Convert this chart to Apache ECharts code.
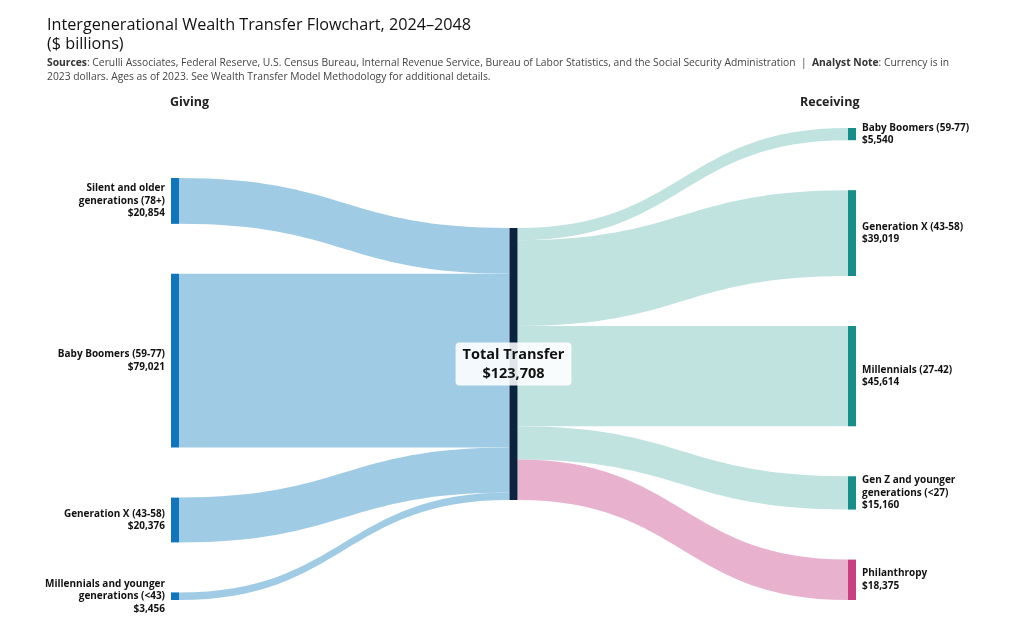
<!DOCTYPE html>
<html>
<head>
<meta charset="utf-8">
<script src="https://cdn.jsdelivr.net/npm/echarts@6/dist/echarts.min.js"></script>
<style>
  html, body { margin: 0; padding: 0; background: #fff; }
  #chart { width: 1024px; height: 644px; }
</style>
</head>
<body>
<div id="chart"></div>
<script>
// data ($ billions)
const givingNames = ['Silent and older\ngenerations (78+)', 'Baby Boomers (59-77)', 'Generation X (43-58)', 'Millennials and younger\ngenerations (<43)'];
const givingValues = [20854, 79021, 20376, 3456];
const totalName = 'Total Transfer';
const totalValue = 123708;
const receivingNames = ['Baby Boomers (59-77)', 'Generation X (43-58)', 'Millennials (27-42)', 'Gen Z and younger\ngenerations (<27)', 'Philanthropy'];
const receivingValues = [5540, 39019, 45614, 15160, 18375];

const blueNode = '#0f75bc', blueLink = '#9fcbe5';
const tealNode = '#178e8a', tealLink = '#c0e3e0';
const pinkNode = '#c8407f', pinkLink = '#e8b2cf';
const navy = '#0c2340';

const fmt = v => '$' + v.toLocaleString('en-US');
const sum = a => a.reduce((s, v) => s + v, 0);

// sankey box and gap; the layout keeps the data order when it does not relax,
// so the giving column is stacked to the bottom and the total centred (as in the source)
const box = { left: 171, right: 168, top: 128, bottom: 44 };
const gap = 50;
const boxH = 644 - box.top - box.bottom;
const ky = (boxH - (receivingValues.length - 1) * gap) / sum(receivingValues);
const givingSpan = sum(givingValues) * ky + (givingValues.length - 1) * gap;
const givingStart = boxH - givingSpan;
const totalStart = (boxH - totalValue * ky) / 2;

const nodes = [];
const links = [];
let acc = givingStart;
givingNames.forEach((n, i) => {
    nodes.push({
        name: 'g' + i, disp: n, val: givingValues[i],
        localY: acc / boxH,
        itemStyle: { color: blueNode },
        label: { position: 'left', align: 'right' }
    });
    acc += givingValues[i] * ky + gap;
    links.push({ source: 'g' + i, target: 'total', value: givingValues[i], lineStyle: { color: blueLink } });
});
nodes.push({
    name: 'total', disp: totalName, val: totalValue,
    localY: totalStart / boxH,
    itemStyle: { color: navy },
    label: {
        position: 'inside', align: 'center', fontSize: 14.5, lineHeight: 19,
        backgroundColor: 'rgba(255,255,255,0.88)', borderRadius: 4,
        padding: [3, 7, 2, 7], color: '#111'
    }
});
receivingNames.forEach((n, i) => {
    const phil = n === 'Philanthropy';
    nodes.push({
        name: 'r' + i, disp: n, val: receivingValues[i],
        itemStyle: { color: phil ? pinkNode : tealNode },
        label: { position: 'right', align: 'left' }
    });
    links.push({ source: 'total', target: 'r' + i, value: receivingValues[i], lineStyle: { color: phil ? pinkLink : tealLink } });
});

const chart = echarts.init(document.getElementById('chart'));
chart.setOption({
    backgroundColor: '#fff',
    textStyle: { fontFamily: 'Open Sans' },
    title: [{
        left: 47, top: 16, padding: 0,
        text: 'Intergenerational Wealth Transfer Flowchart, 2024\u20132048\n($ billions)',
        textStyle: { fontFamily: 'Open Sans', fontSize: 16.2, fontWeight: 'normal', color: '#111', lineHeight: 19 }
    }, {
        left: 47, top: 56, padding: 0,
        text: '{b|Sources}: Cerulli Associates, Federal Reserve, U.S. Census Bureau, Internal Revenue Service, Bureau of Labor Statistics, and the Social Security Administration  |  {b|Analyst Note}: Currency is in\n2023 dollars. Ages as of 2023. See Wealth Transfer Model Methodology for additional details.',
        textStyle: {
            fontFamily: 'Open Sans', fontSize: 10.3, fontWeight: 'normal', color: '#444', lineHeight: 14,
            rich: { b: { fontFamily: 'Open Sans', fontSize: 10.3, fontWeight: 'bold', color: '#333', lineHeight: 14 } }
        }
    }],
    graphic: [
        { type: 'text', left: 170, top: 96, style: { text: 'Giving', font: 'bold 12.5px "Open Sans"', fill: '#222' } },
        { type: 'text', left: 800, top: 96, style: { text: 'Receiving', font: 'bold 12.5px "Open Sans"', fill: '#222' } }
    ],
    series: [{
        type: 'sankey',
        left: box.left, right: box.right, top: box.top, bottom: box.bottom,
        nodeWidth: 8,
        nodeGap: gap,
        layoutIterations: 0,
        draggable: false,
        emphasis: { disabled: true },
        data: nodes,
        links: links,
        lineStyle: { opacity: 1, curveness: 0.5 },
        label: {
            fontFamily: 'Open Sans', fontSize: 10, fontWeight: 'bold', color: '#111', lineHeight: 12.5,
            distance: 6,
            formatter: p => p.data.disp + '\n' + fmt(p.data.val)
        }
    }]
});
</script>
</body>
</html>
